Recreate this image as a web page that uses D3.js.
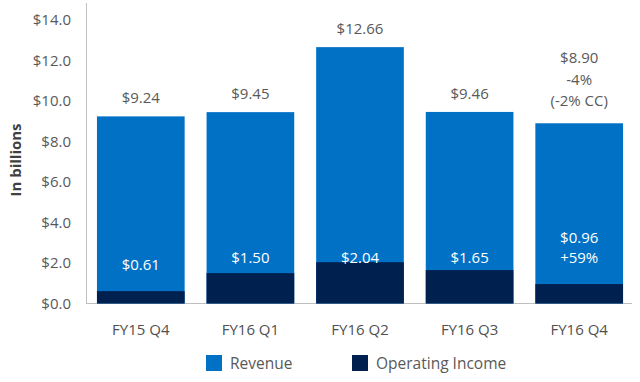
<!DOCTYPE html>
<html><head><meta charset="utf-8">
<script src="https://cdn.jsdelivr.net/npm/d3@7"></script>
<style>body{margin:0;background:#fff;}svg{display:block;font-family:"Open Sans","Noto Sans",sans-serif;}</style>
</head><body><svg id="c" width="640" height="382"></svg>
<script>
const categories = ["FY15 Q4","FY16 Q1","FY16 Q2","FY16 Q3","FY16 Q4"];
const revenue = [9.24, 9.45, 12.66, 9.46, 8.90];
const operatingIncome = [0.61, 1.50, 2.04, 1.65, 0.96];
const revenueLabels = [["$9.24"],["$9.45"],["$12.66"],["$9.46"],["$8.90","-4%","(-2% CC)"]];
const incomeLabels = [["$0.61"],["$1.50"],["$2.04"],["$1.65"],["$0.96","+59%"]];
const yTicks = [0,2,4,6,8,10,12,14];
const seriesNames = ["Revenue","Operating Income"];
const colors = ["#0071c5","#002050"];

const svg = d3.select("#c");
const x = d3.scaleBand().domain(categories).range([86,634]).paddingInner(0.2).paddingOuter(0.1);
const y = d3.scaleLinear().domain([0,14]).range([303.5,20]);

// axes lines
svg.append("line").attr("x1",86.5).attr("x2",86.5).attr("y1",3).attr("y2",304).attr("stroke","#bfbfbf");
svg.append("line").attr("x1",86).attr("x2",632).attr("y1",303.5).attr("y2",303.5).attr("stroke","#bfbfbf");

// y tick labels
svg.selectAll(".yt").data(yTicks).enter().append("text")
  .attr("x",71).attr("y",d=>y(d)).attr("dy","0.35em").attr("text-anchor","end")
  .attr("font-size",15).attr("fill","#595959").text(d=>"$"+d.toFixed(1));

svg.append("text").attr("transform","translate(21,160) rotate(-90)").attr("text-anchor","middle")
  .attr("font-size",15).attr("font-weight","bold").attr("fill","#404040").text("In billions");

// bars
svg.selectAll(".rev").data(revenue).enter().append("rect")
  .attr("x",(d,i)=>x(categories[i])).attr("width",x.bandwidth())
  .attr("y",d=>y(d)).attr("height",d=>y(0)-y(d)).attr("fill",colors[0]);
svg.selectAll(".oi").data(operatingIncome).enter().append("rect")
  .attr("x",(d,i)=>x(categories[i])).attr("width",x.bandwidth())
  .attr("y",d=>y(d)).attr("height",d=>y(0)-y(d)).attr("fill",colors[1]);

// revenue labels
revenueLabels.forEach((lines,i)=>{
  const cx = x(categories[i])+x.bandwidth()/2;
  const multi = lines.length>1;
  const last = y(revenue[i]) - (multi ? 17 : 13);
  const gap = 21.5;
  lines.forEach((t,j)=>{
    svg.append("text").attr("x",cx).attr("y",last-(lines.length-1-j)*gap)
      .attr("text-anchor","middle").attr("font-size",15).attr("fill","#595959").text(t);
  });
});
// income labels
incomeLabels.forEach((lines,i)=>{
  const cx = x(categories[i])+x.bandwidth()/2;
  const base = lines.length>1 ? 263 : (i===0?270:263);
  lines.forEach((t,j)=>{
    svg.append("text").attr("x",cx).attr("y",base-(lines.length-1-j)*20)
      .attr("text-anchor","middle").attr("font-size",15).attr("fill","#ffffff").text(t);
  });
});

// x labels
svg.selectAll(".xl").data(categories).enter().append("text")
  .attr("x",d=>x(d)+x.bandwidth()/2).attr("y",335).attr("text-anchor","middle")
  .attr("font-size",15).attr("fill","#505050").text(d=>d);

// legend
const lx = [206,352];
seriesNames.forEach((n,i)=>{
  svg.append("rect").attr("x",lx[i]).attr("y",355).attr("width",16).attr("height",16).attr("fill",colors[i]);
  svg.append("text").attr("x",lx[i]+24).attr("y",369).attr("font-size",15.5).attr("fill","#595959").text(n);
});
</script></body></html>
